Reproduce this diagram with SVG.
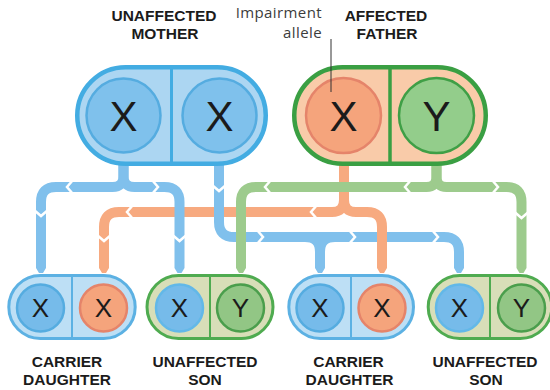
<svg xmlns="http://www.w3.org/2000/svg" width="550" height="390" viewBox="0 0 550 390">
<style>
.ln{fill:none;stroke-width:10;stroke-linecap:butt;stroke-linejoin:round}
.b{stroke:#80c0ec}
.o{stroke:#f7aa80}
.g{stroke:#9dcb8d}
.chev{fill:none;stroke:#fff;stroke-width:2.5}
.lbl{font-family:"Liberation Sans",Arial,sans-serif;font-weight:bold;font-size:15.5px;fill:#1b1b1b;text-anchor:middle}
.big{font-family:"Liberation Sans",Arial,sans-serif;font-size:42px;fill:#1b1b1b;text-anchor:middle}
.sm{font-family:"Liberation Sans",Arial,sans-serif;font-size:26px;fill:#1b1b1b;text-anchor:middle}
.note{font-family:"Open Sans","Liberation Sans",sans-serif;font-size:15px;letter-spacing:0.4px;fill:#3c3c3c;text-anchor:end}
.pm{fill:#acd6f2;stroke:#43ace2;stroke-width:4.5}
.pf{fill:#f9cba9;stroke:#3a9f43;stroke-width:4.5}
.pb{fill:#bddff5;stroke:#5cb1e3;stroke-width:3}
.pg{fill:#d8deb8;stroke:#4fab50;stroke-width:3}
.cb{fill:#76bbea;stroke:#55ace0;stroke-width:2.5}
.co{fill:#f5a47c;stroke:#e5846a;stroke-width:2.5}
.cg{fill:#92c685;stroke:#4a9e4c;stroke-width:2.5}
</style>
<defs>
<path id="chev" class="chev" d="M-3,-7 L3,0 L-3,7"/>
<marker id="tb" markerUnits="userSpaceOnUse" markerWidth="12" markerHeight="12" refX="0" refY="0" viewBox="-1 -6 8 12" orient="auto" overflow="visible"><path d="M0,-5 L5,-2 L5,2 L0,5 Z" fill="#80c0ec"/></marker>
<marker id="to" markerUnits="userSpaceOnUse" markerWidth="12" markerHeight="12" refX="0" refY="0" viewBox="-1 -6 8 12" orient="auto" overflow="visible"><path d="M0,-5 L5,-2 L5,2 L0,5 Z" fill="#f7aa80"/></marker>
<marker id="tg" markerUnits="userSpaceOnUse" markerWidth="12" markerHeight="12" refX="0" refY="0" viewBox="-1 -6 8 12" orient="auto" overflow="visible"><path d="M0,-5 L5,-2 L5,2 L0,5 Z" fill="#9dcb8d"/></marker>
</defs>

<g id="connectors">
  <!-- orange left branch (bottom layer) -->
  <path class="ln o" marker-end="url(#to)" d="M344 160 V200 Q344 212 332 212 H119 Q104 212 104 227 V268"/>
  <use href="#chev" transform="translate(130,212) rotate(180)"/>
  <use href="#chev" transform="translate(314,212) rotate(180)"/>
  <use href="#chev" transform="translate(104,238) rotate(90)"/>
  <!-- blue fork from mother left X -->
  <path class="ln b" marker-end="url(#tb)" d="M123.5 160 V176 Q123.5 187 112.5 187 H56 Q41 187 41 202 V268"/>
  <path class="ln b" marker-end="url(#tb)" d="M123.5 160 V176 Q123.5 187 134.5 187 H164.5 Q179.5 187 179.5 202 V268"/>
  <use href="#chev" transform="translate(70,187) rotate(180)"/>
  <use href="#chev" transform="translate(155,187)"/>
  <use href="#chev" transform="translate(41,213) rotate(90)"/>
  <use href="#chev" transform="translate(179.5,238) rotate(90)"/>
  <!-- blue from mother right X -->
  <path class="ln b" marker-end="url(#tb)" d="M219 160 V222 Q219 237 234 237 H444 Q459 237 459 252 V268"/>
  <path class="ln b" marker-end="url(#tb)" d="M320 240 V268"/>
  <path class="ln b" d="M305 237 Q320 237 320 252"/>
  <path class="ln b" d="M335 237 Q320 237 320 252"/>
  <use href="#chev" transform="translate(219,188) rotate(90)"/>
  <use href="#chev" transform="translate(260,237)"/>
  <use href="#chev" transform="translate(352,237)"/>
  <use href="#chev" transform="translate(435,237)"/>
  <!-- orange right branch -->
  <path class="ln o" marker-end="url(#to)" d="M344 160 V200 Q344 212 356 212 H367 Q382 212 382 227 V268"/>
  <!-- green from father Y -->
  <path class="ln g" marker-end="url(#tg)" d="M436.5 160 V177 Q436.5 187 426.5 187 H256 Q241 187 241 202 V268"/>
  <path class="ln g" marker-end="url(#tg)" d="M436.5 160 V177 Q436.5 187 446.5 187 H506.5 Q521.5 187 521.5 202 V268"/>
  <use href="#chev" transform="translate(268,187) rotate(180)"/>
  <use href="#chev" transform="translate(408,187) rotate(180)"/>
  <use href="#chev" transform="translate(495,187)"/>
  <use href="#chev" transform="translate(521.5,215) rotate(90)"/>
</g>

<g id="mother">
  <rect class="pm" x="77.25" y="67.25" width="188.5" height="96.5" rx="48.25"/>
  <line x1="171.5" y1="68" x2="171.5" y2="163" stroke="#43ace2" stroke-width="3"/>
  <circle class="cb" cx="123.5" cy="115.5" r="37" style="fill:#7fc1ec"/>
  <circle class="cb" cx="219.5" cy="115.5" r="37" style="fill:#7fc1ec"/>
  <text class="big" x="123.5" y="130.5">X</text>
  <text class="big" x="219.5" y="130.5">X</text>
  <text class="lbl" x="164" y="20.5">UNAFFECTED</text>
  <text class="lbl" x="165" y="39">MOTHER</text>
</g>

<g id="father">
  <rect class="pf" x="294.25" y="67.25" width="191.5" height="96.5" rx="48.25"/>
  <line x1="390" y1="68" x2="390" y2="163" stroke="#3a9f43" stroke-width="3.5"/>
  <circle class="co" cx="343.5" cy="115.5" r="37.5"/>
  <circle class="cg" cx="436.5" cy="115.5" r="37.5" style="fill:#93cd8b;stroke:#3f9f46"/>
  <text class="big" x="343.5" y="130.5">X</text>
  <text class="big" x="436.5" y="130.5">Y</text>
  <text class="lbl" x="386" y="20.5">AFFECTED</text>
  <text class="lbl" x="387" y="39">FATHER</text>
</g>

<g id="annotation">
  <text class="note" x="322" y="18">Impairment</text>
  <text class="note" x="322" y="38">allele</text>
  <line x1="331" y1="39" x2="331" y2="92" stroke="#333" stroke-width="1"/>
</g>

<g id="child1">
  <rect class="pb" x="8.8" y="275.5" width="126.4" height="63" rx="31.5"/>
  <line x1="72" y1="276" x2="72" y2="338" stroke="#5cb1e3" stroke-width="2"/>
  <circle class="cb" cx="40.5" cy="308" r="23.5"/>
  <circle class="co" cx="103.5" cy="308" r="23.5"/>
  <text class="sm" x="40.5" y="317.3">X</text>
  <text class="sm" x="103.5" y="317.3">X</text>
  <text class="lbl" x="67" y="367">CARRIER</text>
  <text class="lbl" x="67" y="385">DAUGHTER</text>
</g>

<g id="child2">
  <rect class="pg" x="147" y="275.5" width="126" height="63" rx="31.5"/>
  <line x1="210" y1="276" x2="210" y2="338" stroke="#4fab50" stroke-width="2"/>
  <circle class="cb" cx="179.5" cy="308" r="23.5" style="stroke:#62b8e8"/>
  <circle class="cg" cx="240.5" cy="308" r="23.5"/>
  <text class="sm" x="179.5" y="317.3">X</text>
  <text class="sm" x="240.5" y="317.3">Y</text>
  <text class="lbl" x="205" y="367">UNAFFECTED</text>
  <text class="lbl" x="205" y="385">SON</text>
</g>

<g id="child3">
  <rect class="pb" x="288.8" y="275.5" width="124.7" height="63" rx="31.5"/>
  <line x1="351" y1="276" x2="351" y2="338" stroke="#5cb1e3" stroke-width="2"/>
  <circle class="cb" cx="320" cy="308" r="23.5"/>
  <circle class="co" cx="382" cy="308" r="23.5"/>
  <text class="sm" x="320" y="317.3">X</text>
  <text class="sm" x="382" y="317.3">X</text>
  <text class="lbl" x="348.5" y="367">CARRIER</text>
  <text class="lbl" x="349.5" y="385">DAUGHTER</text>
</g>

<g id="child4">
  <rect class="pg" x="428.2" y="275.5" width="123.6" height="63" rx="31.5"/>
  <line x1="490" y1="276" x2="490" y2="338" stroke="#4fab50" stroke-width="2"/>
  <circle class="cb" cx="459.5" cy="308" r="23.5" style="stroke:#62b8e8"/>
  <circle class="cg" cx="521.5" cy="308" r="23.5"/>
  <text class="sm" x="459.5" y="317.3">X</text>
  <text class="sm" x="521.5" y="317.3">Y</text>
  <text class="lbl" x="485" y="367">UNAFFECTED</text>
  <text class="lbl" x="486" y="385">SON</text>
</g>
</svg>
